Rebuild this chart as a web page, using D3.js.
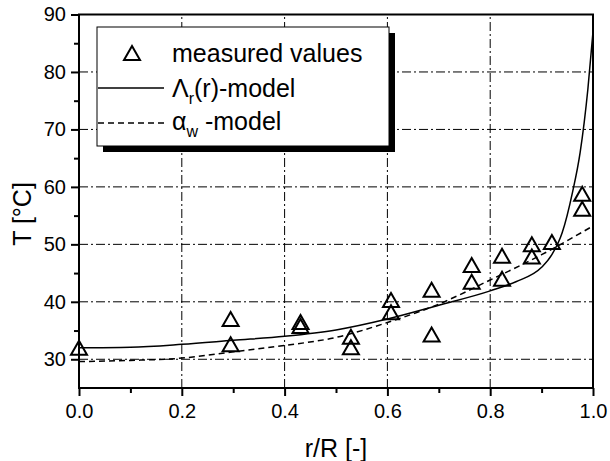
<!DOCTYPE html>
<html>
<head>
<meta charset="utf-8">
<script src="https://cdn.jsdelivr.net/npm/d3@7"></script>
<style>
  html, body { margin: 0; padding: 0; background: #fff; }
  svg { display: block; font-family: "Liberation Sans", Arial, sans-serif; }
</style>
</head>
<body>
<svg id="chart" width="610" height="461"></svg>
<script>
// ---- data ----
const measuredR = [0.0, 0.295, 0.295, 0.431, 0.431, 0.529, 0.529, 0.607, 0.607, 0.686, 0.686, 0.764, 0.764, 0.823, 0.823, 0.881, 0.881, 0.920, 0.979, 0.979];
const measuredT = [32.0, 37.0, 32.6, 36.5, 35.8, 33.9, 32.1, 40.3, 38.2, 42.1, 34.3, 46.4, 43.5, 48.0, 44.0, 50.0, 47.9, 50.4, 58.8, 56.2];

const lambdaR = [0, 0.1, 0.2, 0.3, 0.4, 0.5, 0.6, 0.7, 0.8, 0.85, 0.9, 0.92, 0.94, 0.96, 0.975, 0.99, 1.0];
const lambdaT = [32.0, 32.1, 32.6, 33.3, 34.0, 35.1, 37.0, 39.4, 41.9, 43.5, 46.0, 48.2, 52.0, 59.0, 66.0, 77.0, 87.0];

const alphaR = [0, 0.1, 0.2, 0.3, 0.4, 0.5, 0.6, 0.7, 0.8, 0.9, 1.0];
const alphaT = [29.6, 29.8, 30.2, 31.3, 32.4, 33.8, 36.4, 39.6, 43.8, 48.2, 53.2];

const xTicks = [0.0, 0.2, 0.4, 0.6, 0.8, 1.0];
const xTickLabels = ["0.0", "0.2", "0.4", "0.6", "0.8", "1.0"];
const xMinorTicks = [0.1, 0.3, 0.5, 0.7, 0.9];
const yTicks = [30, 40, 50, 60, 70, 80, 90];
const yMinorTicks = [35, 45, 55, 65, 75, 85];
const xGrid = [0.2, 0.4, 0.6, 0.8];
const yGrid = [30, 40, 50, 60, 70, 80];

// ---- layout ----
const svg = d3.select("#chart");
const L = 79, R = 593, T = 14.5, B = 388;
const x = d3.scaleLinear().domain([0, 1]).range([L, R]);
const y = d3.scaleLinear().domain([25, 90]).range([B, T]);

// grid
const grid = svg.append("g").attr("stroke", "#000").attr("stroke-width", 1)
  .attr("stroke-dasharray", "9,3,2,3").attr("fill", "none");
grid.selectAll("line.gx").data(xGrid).join("line").attr("class", "gx")
  .attr("x1", d => x(d)).attr("x2", d => x(d)).attr("y1", B).attr("y2", T);
grid.selectAll("line.gy").data(yGrid).join("line").attr("class", "gy")
  .attr("x1", L).attr("x2", R).attr("y1", d => y(d)).attr("y2", d => y(d));

// lines
const lineGen = d3.line().curve(d3.curveMonotoneX).x(d => x(d[0])).y(d => y(d[1]));
const lambdaData = lambdaR.map((r, i) => [r, lambdaT[i]]);
const alphaData = alphaR.map((r, i) => [r, alphaT[i]]);
svg.append("path").datum(alphaData).attr("d", lineGen)
  .attr("fill", "none").attr("stroke", "#000").attr("stroke-width", 1.5).attr("stroke-dasharray", "6,4");
svg.append("path").datum(lambdaData).attr("d", lineGen)
  .attr("fill", "none").attr("stroke", "#000").attr("stroke-width", 1.5);

// triangles
const triW = 16, triH = 14;
const triPath = `M0,${-triH/2}L${triW/2},${triH/2}L${-triW/2},${triH/2}Z`;
svg.append("g").selectAll("path").data(measuredR.map((r, i) => [r, measuredT[i]])).join("path")
  .attr("d", triPath)
  .attr("transform", d => `translate(${x(d[0])},${y(d[1])})`)
  .attr("fill", "none").attr("stroke", "#000").attr("stroke-width", 2).attr("stroke-linejoin", "miter");

// frame
svg.append("rect").attr("x", L).attr("y", T).attr("width", R - L).attr("height", B - T)
  .attr("fill", "none").attr("stroke", "#000").attr("stroke-width", 2);

// axes
const xAxis = d3.axisBottom(x).tickValues(xTicks).tickFormat((d, i) => xTickLabels[i]).tickSize(8).tickSizeOuter(0).tickPadding(5);
const gx = svg.append("g").attr("transform", `translate(0,${B})`).call(xAxis);
const xMinor = d3.axisBottom(x).tickValues(xMinorTicks).tickFormat("").tickSize(5).tickSizeOuter(0);
const gxm = svg.append("g").attr("transform", `translate(0,${B})`).call(xMinor);

const yAxis = d3.axisLeft(y).tickValues(yTicks).tickFormat(d3.format("d")).tickSize(8).tickSizeOuter(0).tickPadding(5);
const gy = svg.append("g").attr("transform", `translate(${L},0)`).call(yAxis);
const yMinor = d3.axisLeft(y).tickValues(yMinorTicks).tickFormat("").tickSize(5).tickSizeOuter(0);
const gym = svg.append("g").attr("transform", `translate(${L},0)`).call(yMinor);

[gx, gxm, gy, gym].forEach(g => {
  g.select(".domain").remove();
  g.selectAll(".tick line").attr("stroke", "#000").attr("stroke-width", 2);
  g.selectAll(".tick text").attr("fill", "#000").style("font-size", "20px")
    .style("font-family", "'Liberation Sans', Arial, sans-serif");
});
gx.selectAll(".tick text").attr("dy", null).attr("y", 0).attr("transform", "translate(0,30)");

// axis titles
svg.append("text").attr("x", (L + R) / 2).attr("y", 457).attr("text-anchor", "middle")
  .style("font-size", "25px").text("r/R [-]");
svg.append("text").attr("transform", "translate(31,214) rotate(-90)").attr("text-anchor", "middle")
  .style("font-size", "25px").text("T [°C]");

// legend
const lg = svg.append("g");
const lx = 97, ly = 27, lw = 292, lh = 119;
lg.append("rect").attr("x", lx + 6).attr("y", ly + 6).attr("width", lw).attr("height", lh).attr("fill", "#000");
lg.append("rect").attr("x", lx).attr("y", ly).attr("width", lw).attr("height", lh)
  .attr("fill", "#fff").attr("stroke", "#000").attr("stroke-width", 1);
lg.append("path").attr("d", triPath).attr("transform", "translate(132,53)")
  .attr("fill", "none").attr("stroke", "#000").attr("stroke-width", 2);
lg.append("text").attr("x", 172).attr("y", 62).style("font-size", "25px").text("measured values");
lg.append("line").attr("x1", 98).attr("x2", 164).attr("y1", 88).attr("y2", 88)
  .attr("stroke", "#000").attr("stroke-width", 1.5);
const t2 = lg.append("text").attr("x", 172).attr("y", 97).style("font-size", "25px");
t2.append("tspan").text("Λ");
t2.append("tspan").attr("dy", 7).style("font-size", "16px").text("r");
t2.append("tspan").attr("dy", -7).text("(r)-model");
lg.append("line").attr("x1", 98).attr("x2", 164).attr("y1", 123).attr("y2", 123)
  .attr("stroke", "#000").attr("stroke-width", 1.5).attr("stroke-dasharray", "6,4");
const t3 = lg.append("text").attr("x", 172).attr("y", 130).style("font-size", "25px");
t3.append("tspan").text("α");
t3.append("tspan").attr("dy", 7).style("font-size", "16px").text("w");
t3.append("tspan").attr("dy", -7).text(" -model");
</script>
</body>
</html>
